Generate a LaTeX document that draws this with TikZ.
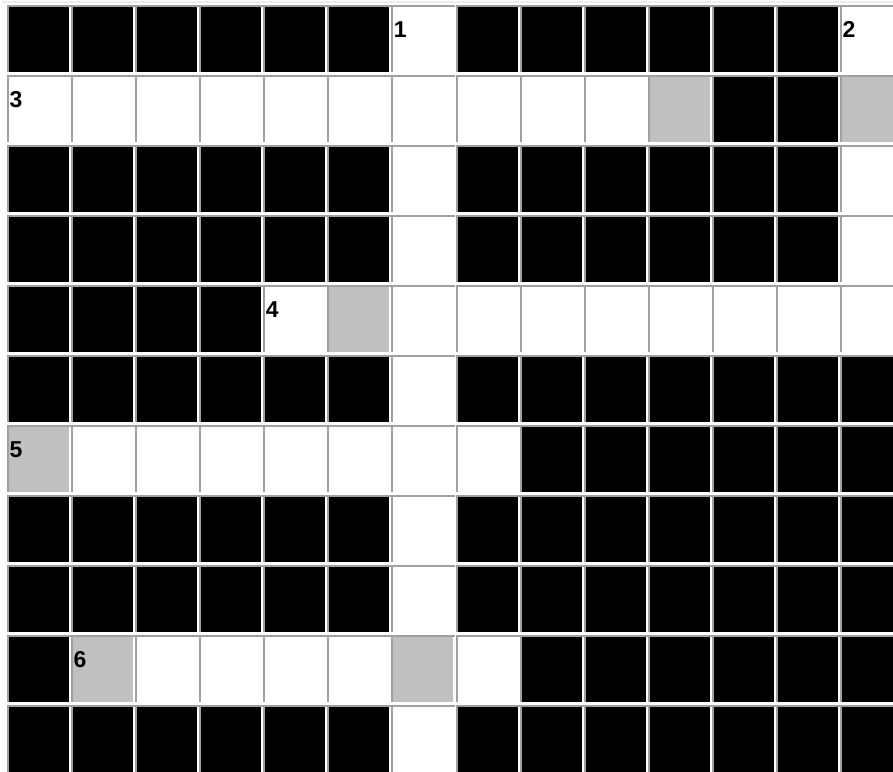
\documentclass[tikz,border=0pt]{standalone}
\usepackage{fontspec}
\setmainfont{Liberation Sans}
\definecolor{linegray}{HTML}{A0A0A0}
\definecolor{cellgray}{HTML}{C0C0C0}
\tikzset{
  cellbox/.style={draw=none, minimum width=60pt, minimum height=65pt, inner sep=0pt, outer sep=0pt},
  numlabel/.style={anchor=base west, inner sep=0pt, outer sep=0pt, font=\fontsize{23}{23}\selectfont\bfseries, text=black},
  gridline/.style={fill=linegray, draw=none}
}
\begin{document}
\begin{tikzpicture}[x=1pt,y=-1pt]
\useasboundingbox (0,0) rectangle (893,771);
\fill[white] (0,0) rectangle (893,771);
\fill[black!7] (2,1) rectangle (893,3);
\foreach \p in {0-6,0-13,1-0,1-1,1-2,1-3,1-4,1-5,1-6,1-7,1-8,1-9,2-6,2-13,3-6,3-13,4-4,4-6,4-7,4-8,4-9,4-10,4-11,4-12,4-13,5-6,6-1,6-2,6-3,6-4,6-5,6-6,6-7,7-6,8-6,9-2,9-3,9-4,9-5,9-7,10-6}{\expandafter\gdef\csname cellcol@\p\endcsname{white}}
\foreach \p in {1-10,1-13,4-5,6-0,9-1,9-6}{\expandafter\gdef\csname cellcol@\p\endcsname{cellgray}}
\foreach \r in {0,...,10}{
  \foreach \c in {0,...,13}{
    \pgfmathsetmacro\X{7+64.08*\c}
    \pgfmathsetmacro\Y{5+70*\r}
    \ifcsname cellcol@\r-\c\endcsname\edef\cc{\csname cellcol@\r-\c\endcsname}\else\def\cc{black}\fi
    \path[gridline] (\X,\Y) rectangle ++(64,2);
    \path[gridline] (\X,\Y) rectangle ++(2,67);
    \node[cellbox, fill=\cc] (cell-\r-\c) at (\X+32,\Y+34.5) {};
  }
}
\node[numlabel] (num1) at ([xshift=0.5pt,yshift=-30pt]cell-0-6.north west) {1};
\node[numlabel] (num2) at ([xshift=0.5pt,yshift=-30pt]cell-0-13.north west) {2};
\node[numlabel] (num3) at ([xshift=0.5pt,yshift=-30pt]cell-1-0.north west) {3};
\node[numlabel] (num4) at ([xshift=0.5pt,yshift=-30pt]cell-4-4.north west) {4};
\node[numlabel] (num5) at ([xshift=0.5pt,yshift=-30pt]cell-6-0.north west) {5};
\node[numlabel] (num6) at ([xshift=0.5pt,yshift=-30pt]cell-9-1.north west) {6};
\end{tikzpicture}
\end{document}
